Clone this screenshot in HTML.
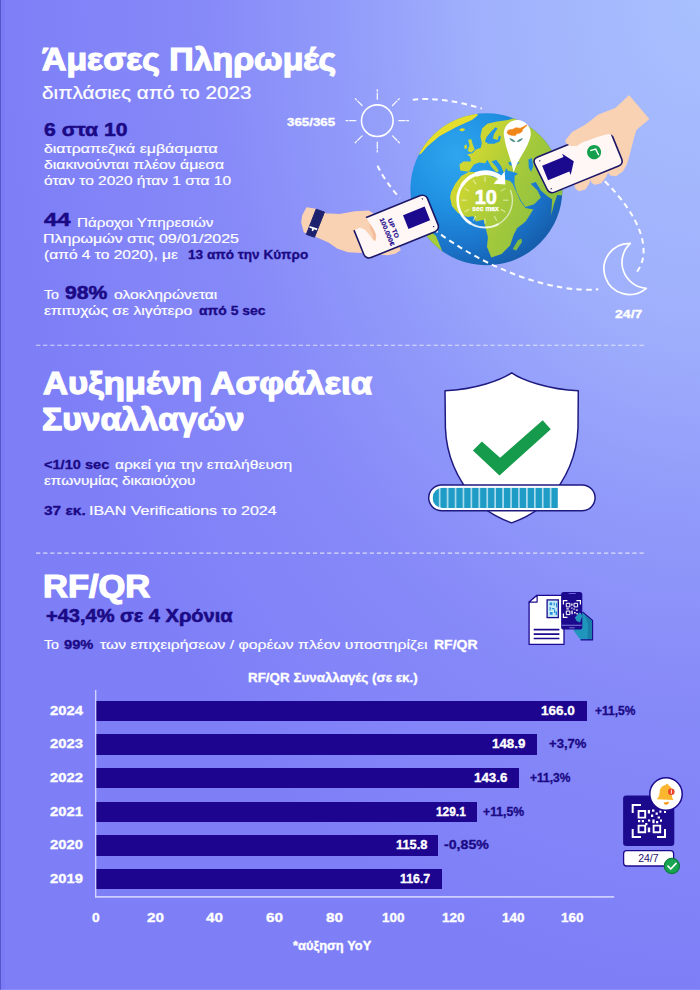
<!DOCTYPE html>
<html lang="el"><head><meta charset="utf-8"><title>Infographic</title>
<style>
html,body{margin:0;padding:0;}
body{width:700px;height:990px;overflow:hidden;position:relative;font-family:"Liberation Sans",sans-serif;color:#fff;
background:radial-gradient(ellipse 700px 990px at 100% 0%, #a8c0fe 0%, #a0b0fc 32%, #929cfa 50%, #8689f8 71%, #7e7ff7 100%);}
.t{position:absolute;white-space:nowrap;line-height:1;transform-origin:0 0;display:block;}
.bar{position:absolute;left:96.2px;height:20.3px;background:#1e0590;}
.dash{position:absolute;left:38px;width:627px;height:0;border-top:1.3px dashed rgba(214,220,255,.62);}
svg{position:absolute;left:0;top:0;overflow:visible;}
</style></head><body>
<div style="position:absolute;left:0;top:0;width:1px;height:990px;background:rgba(45,45,160,.5)"></div>
<div style="position:absolute;left:1px;top:0;width:4px;height:990px;background:rgba(60,60,190,.05)"></div>
<div style="position:absolute;left:0;top:989px;width:700px;height:1px;background:rgba(255,255,255,.1)"></div>



<div class="bar" style="top:700.60px;width:490.7px"></div>
<div class="bar" style="top:734.27px;width:441.3px"></div>
<div class="bar" style="top:767.94px;width:422.8px"></div>
<div class="bar" style="top:801.61px;width:380.4px"></div>
<div class="bar" style="top:835.28px;width:341.8px"></div>
<div class="bar" style="top:868.95px;width:345.7px"></div>
<svg width="700" height="990" viewBox="0 0 700 990">
<path d="M36,345.2H644.5 M36,553.1H644.5" stroke="#fff" stroke-opacity=".7" stroke-width="1.05" stroke-dasharray="4.3 2.8" fill="none"/>
<defs>
<radialGradient id="gSea" cx="456.4" cy="155.3" r="117.8" gradientUnits="userSpaceOnUse">
<stop offset="0" stop-color="#2ea6ee"/><stop offset=".45" stop-color="#2090e2"/><stop offset=".8" stop-color="#1a72c8"/><stop offset="1" stop-color="#165fae"/></radialGradient>
<linearGradient id="gLand" x1="416.4" y1="159.3" x2="561.4" y2="224.3" gradientUnits="userSpaceOnUse">
<stop offset="0" stop-color="#e6de2c"/><stop offset=".32" stop-color="#cdd632"/><stop offset=".58" stop-color="#a8cb3a"/><stop offset="1" stop-color="#84bc43"/></linearGradient>
<clipPath id="cGlobe"><circle cx="486.4" cy="189.3" r="76"/></clipPath>
</defs>
<g fill="none" stroke="#fff" stroke-opacity=".96" stroke-width="2" stroke-dasharray="5.6 4.2" stroke-linecap="butt">
<path d="M412.8,99.8 A151.6,69.3 29.05 0 1 481.9,108.6"/>
<path d="M377.5,165.8 A151.6,69.3 29.05 0 0 399.9,198.1"/>
<path d="M604.8,181.2 A151.6,69.3 29.05 0 1 635.7,273.3"/>
</g>
<circle cx="486.4" cy="189.3" r="76" fill="url(#gSea)"/>
<g clip-path="url(#cGlobe)">
<path d="M421.3,153.4 L427.3,146.6 L439.3,136.3 L456.4,126.9 L471.9,120.0 L477.9,115.2 L473.6,106.3 L447.9,113.1 L427.3,126.9 L415.3,142.3 L411.9,157.7Z" fill="#e6de2e"/>
<path d="M460.2,170.6 L459.5,164.6 L463.3,161.5 L471.0,161.5 L470.1,157.0 L467.1,154.6 L472.7,152.9 L476.1,149.5 L480.8,147.8 L481.8,143.1 L480.4,136.3 L482.1,128.6 L487.3,123.8 L495.9,121.7 L507.9,120.0 L525.0,114.9 L576.4,114.9 L576.4,197.1 L557.2,194.9 L554.1,204.0 L551.2,215.5 L552.1,199.2 L547.8,196.6 L540.9,190.6 L535.8,182.1 L530.7,183.8 L537.5,190.6 L540.9,197.5 L534.1,204.3 L525.5,206.9 L521.2,200.9 L516.9,192.3 L514.4,183.8 L514.7,175.7 L518.1,174.0 L514.7,172.3 L507.9,170.7 L506.1,168.0 L504.1,173.5 L501.0,165.9 L496.2,159.8 L491.4,161.5 L495.9,166.3 L498.9,171.1 L496.5,172.5 L491.6,167.3 L487.3,159.8 L485.2,163.2 L479.1,162.5 L473.9,164.6 L471.5,168.0 L468.8,171.8Z" fill="url(#gLand)"/>
<path d="M484.9,141.6 L486.6,137.1 L490.7,132.0 L495.5,127.2 L497.6,128.6 L494.1,133.7 L492.8,138.5 L497.6,139.9 L498.9,135.4 L501.0,136.8 L499.6,141.6 L494.1,143.7 L488.3,143.7Z" fill="#2496e4"/>
<path d="M507.9,162.5 L514.7,160.5 L519.5,162.5 L516.4,165.3 L509.9,165.6Z" fill="#2294e2"/>
<path d="M528.4,159.4 L531.9,158.1 L533.2,166.3 L531.2,171.8 L528.8,168.0Z" fill="#1f8ad8"/>
<path d="M467.6,150.9 L469.5,145.0 L468.1,139.9 L471.2,138.9 L472.9,144.7 L474.8,149.8 L471.2,152.4Z" fill="url(#gLand)"/>
<path d="M464.1,146.1 L466.4,144.2 L467.2,148.1 L464.8,149.3Z" fill="url(#gLand)"/>
<path d="M459.2,129.6 L462.3,128.1 L465.3,129.3 L463.3,131.3 L460.2,131.1Z" fill="url(#gLand)"/>
<path d="M461.3,176.0 L455.3,183.7 L451.0,192.3 L450.1,197.4 L451.9,206.0 L457.9,212.9 L467.3,217.1 L473.3,216.3 L475.9,221.4 L483.6,219.7 L485.3,226.6 L487.9,236.9 L487.0,247.1 L491.3,257.4 L501.6,254.0 L510.1,245.4 L513.6,235.1 L517.0,228.3 L525.6,221.4 L533.3,209.4 L525.6,208.1 L520.4,200.9 L516.1,191.4 L512.7,183.7 L510.1,181.1 L501.6,178.6 L493.0,176.9 L487.9,174.3 L479.3,172.6 L469.0,171.7Z" fill="url(#gLand)"/>
<path d="M512.7,248.9 L517.9,240.3 L521.3,238.6 L522.1,242.0 L516.1,250.6Z" fill="#7fba45"/>
<path d="M424.0,226.0 L436.0,236.0 L441.0,248.0 L446.0,262.0 L430.0,262.0 L415.0,240.0Z" fill="#a6cb3b"/>
<path d="M567.4,143.3 A81,81 0 0 1 430.4,270.3 L442.4,258.3 A74,74 0 0 0 548.4,155.3Z" fill="#0b3f8c" opacity=".42"/>
</g>
<g id="timer">
<path d="M510.4,189.9 A27.4,27.4 0 0 1 498.7,223.9" fill="none" stroke="#fff" stroke-width="1.4" stroke-opacity="0.6"/>
<path d="M498.7,223.9 A27.4,27.4 0 0 1 471.3,223.9" fill="none" stroke="#fff" stroke-width="1.9" stroke-opacity="0.85"/>
<path d="M471.3,223.9 A27.4,27.4 0 0 1 462.6,184.5" fill="none" stroke="#fff" stroke-width="2.6" stroke-opacity="1"/>
<path d="M461.8,185.7 A27.4,27.4 0 0 1 476.5,174.1" fill="none" stroke="#fff" stroke-width="3.3" stroke-opacity="1"/>
<path d="M475.6,174.5 A27.4,27.4 0 0 1 499.9,177.2" fill="none" stroke="#fff" stroke-width="4.6" stroke-opacity="1"/>
<path d="M494,183.7 L504.7,171.6 L505.4,184.4Z" fill="#fff"/>
<line x1="485.0" y1="182.0" x2="485.0" y2="176.6" stroke="#fffbe0" stroke-opacity=".6" stroke-width="1.1"/>
<line x1="494.1" y1="184.4" x2="496.8" y2="179.8" stroke="#fffbe0" stroke-opacity=".6" stroke-width="1.1"/>
<line x1="500.8" y1="191.1" x2="505.4" y2="188.4" stroke="#fffbe0" stroke-opacity=".6" stroke-width="1.1"/>
<line x1="503.2" y1="200.2" x2="508.6" y2="200.2" stroke="#fffbe0" stroke-opacity=".6" stroke-width="1.1"/>
<line x1="500.8" y1="209.3" x2="505.4" y2="212.0" stroke="#fffbe0" stroke-opacity=".6" stroke-width="1.1"/>
<line x1="494.1" y1="216.0" x2="496.8" y2="220.6" stroke="#fffbe0" stroke-opacity=".6" stroke-width="1.1"/>
<line x1="485.0" y1="218.4" x2="485.0" y2="223.8" stroke="#fffbe0" stroke-opacity=".6" stroke-width="1.1"/>
<line x1="475.9" y1="216.0" x2="473.2" y2="220.6" stroke="#fffbe0" stroke-opacity=".6" stroke-width="1.1"/>
<line x1="469.2" y1="209.3" x2="464.6" y2="212.0" stroke="#fffbe0" stroke-opacity=".6" stroke-width="1.1"/>
<line x1="466.8" y1="200.2" x2="461.4" y2="200.2" stroke="#fffbe0" stroke-opacity=".6" stroke-width="1.1"/>
<line x1="469.2" y1="191.1" x2="464.6" y2="188.4" stroke="#fffbe0" stroke-opacity=".6" stroke-width="1.1"/>
<line x1="475.9" y1="184.4" x2="473.2" y2="179.8" stroke="#fffbe0" stroke-opacity=".6" stroke-width="1.1"/>
<text x="485.8" y="204.1" text-anchor="middle" font-family="Liberation Sans, sans-serif" font-weight="700" font-size="20" fill="#fff" stroke="#fff" stroke-width=".6">10</text>
<text x="485.6" y="210.7" text-anchor="middle" font-family="Liberation Sans, sans-serif" font-weight="700" font-size="6.8" fill="#fff" stroke="#fff" stroke-width=".25" textLength="26.5" lengthAdjust="spacingAndGlyphs">sec max</text>
</g>
<g id="pin"><path d="M513.6,172.8 C511.6,160 505.6,148.5 504.2,137 A13.5,13.5 0 1 1 530.5,136.2 C528.4,147.5 517,160 513.6,172.8Z" fill="#fff"/>
<path d="M506.9,132.4 L508.5,130 L512.8,129.2 L515.9,127.7 L520.2,128.2 L523.8,126.5 L526.8,124.8 L526.9,125.7 L522.6,129.2 L522.2,131.6 L519.5,133.2 L517.1,133.6 L515.1,135.8 L511.2,135.3 L508.5,134.4Z" fill="#f0851a" stroke="#f0851a" stroke-width=".5" stroke-linejoin="round"/>
<path d="M509.2,138.2 Q512,142.6 515.6,141.8 Q513,138.4 509.2,138.2Z M523,138.2 Q520.2,142.6 516.6,141.8 Q519.2,138.4 523,138.2Z" fill="#4f9088"/></g>
<g fill="none" stroke="#fff" stroke-opacity=".96" stroke-width="2" stroke-dasharray="5.6 4.2" stroke-linecap="butt">
<path d="M433.4,228.9 A151.6,69.3 29.05 0 0 598.3,289.3"/>
</g>
<g id="lhand">
<path d="M307.0,207.9 L302.9,215.6 L301.9,222.4 L304.4,231.9 L315.6,236.1 L329.3,242.1 L337.9,248.1 L348.1,251.6 L361.9,252.3 L375.6,253.6 L387.6,254.5 L395.3,252.9 L399.9,249.9 L397.9,244.7 L384.1,234.4 L375.6,220.7 L373.0,214.2 L368.7,211.3 L355.0,212.1 L339.6,214.7 L325.9,213.9 L315.6,209.6Z" fill="#f9d1b3" stroke="#f9d1b3" stroke-width="1.5" stroke-linejoin="round"/>
<path d="M316.1,209.2 L324.5,212.1 L314.5,237.2 L306.3,234.4Z" fill="#1e226e" stroke="#1e226e" stroke-width="1" stroke-linejoin="round"/>
<path d="M309.7,225.9 L317.5,228.6 L316.8,230.3 L313.9,229.3 L313.2,231.3 L311.6,230.8 L312.3,228.8 L309.2,227.6Z" fill="#fff"/>
</g>
<g id="lphone" transform="translate(395.7,226.6) rotate(-22)">
<rect x="-40" y="-19.5" width="80" height="39" rx="5.5" fill="#fff7f5" stroke="#1b1766" stroke-width="1.6"/>
<rect x="11" y="-7.7" width="23.3" height="14.6" fill="#1c0a8e"/>
<path d="M34.6,-16.6 l1.6,.9 l-1.6,.9z M34.6,13.2 l1.6,.9 l-1.6,.9z" fill="#1b1766"/>
<g transform="rotate(90)" font-family="Liberation Sans, sans-serif" font-weight="700" fill="#1c0a8e" stroke="#1c0a8e" stroke-width=".2" text-anchor="middle"><text x="0.7" y="4.9" font-size="6.3" textLength="20.5" lengthAdjust="spacingAndGlyphs">UP TO</text><text x="1.6" y="12.1" font-size="6.3" textLength="29.5" lengthAdjust="spacingAndGlyphs">100.000€</text></g>
</g>
<path d="M349.0,221.0 L352.6,230.4 L360.0,227.2 L365.0,229.2 L370.0,235.0 L373.0,239.5 L375.2,240.6 L375.9,235.0 L373.5,229.5 L369.5,223.5 L365.0,216.6 L360.0,212.5 L352.0,213.0Z" fill="#f9d1b3" stroke="#f9d1b3" stroke-width=".8" stroke-linejoin="round"/>
<path d="M369.5,223.5 L373.5,229.5 L375.9,235.0 L375.2,240.6 L373.4,239.6 L372.6,234.0 L370.0,228.0Z" fill="#f3bd9c"/>
<g id="rhand">
<path d="M629,96 L648.5,119 L636,129.5 C633,138 631,148 629,155 L626.5,163.5 L625.4,166 L622.5,171 L616,175.6 L610.5,175 L608,171.5 L605.4,177 L601,182.6 L595,184.2 L592,182.4 L590.4,178 L588.4,184 L585,189 L579,190.6 L576,188.4 L574.5,184.4 L590,170 L570,150 L566.4,141 L580,129.6 L598,115.4 L616,108.2Z" fill="#f9d1b3" stroke="#f9d1b3" stroke-width="1.2" stroke-linejoin="round"/>
</g>
<g id="rphone" transform="translate(579.3,161) rotate(-22.2)">
<path d="M-37,-19.5 L34.5,-19.5 Q40,-19.5 40,-14 L40,14 Q40,19.5 34.5,19.5 L-34.6,19.5 Q-40.1,19.5 -40.5,14 L-42.4,-14 Q-42.7,-19.5 -37,-19.5Z" fill="#fff7f5" stroke="#1b1766" stroke-width="1.6"/>
<path d="M-36.2,-9.6 L-13.2,-9.6 L-13.2,-13.2 L-5.2,-1.8 L-13.2,9.6 L-13.2,6 L-36.2,6Z" fill="#1c0a8e"/>
<circle cx="17" cy="-2.6" r="7.1" fill="#12a04c"/><path d="M14,-5.5 L19.7,-4.8 L20.2,2" fill="none" stroke="#fff" stroke-width="1.4" stroke-linejoin="miter"/>
<path d="M-37,-16 l1.6,.9 l-1.6,.9z M-37,14.2 l1.6,.9 l-1.6,.9z" fill="#1b1766"/>
</g>
<path d="M565.2,140.5 L566.6,143.8 L571.0,146.0 L576.9,145.9 L582.0,142.6 L587.9,140.4 L598.9,136.5 L606.0,134.6 L610.6,134.1 L613.4,136.2 L620.0,132.0 L612.0,118.0 L590.0,122.0 L572.0,132.0Z" fill="#f9d1b3"/>
<g id="sun" stroke="#fff" fill="none">
<circle cx="377.3" cy="120.7" r="15.8" stroke-width="1.6"/>
<line x1="398.8" y1="120.7" x2="408.5" y2="120.7" stroke-width="1.25" stroke-dasharray="6.2 1.7 1.8 9" stroke-linecap="round" stroke-opacity=".95"/>
<line x1="392.5" y1="135.9" x2="399.4" y2="142.8" stroke-width="1.25" stroke-dasharray="6.2 1.7 1.8 9" stroke-linecap="round" stroke-opacity=".95"/>
<line x1="377.3" y1="142.2" x2="377.3" y2="151.9" stroke-width="1.25" stroke-dasharray="6.2 1.7 1.8 9" stroke-linecap="round" stroke-opacity=".95"/>
<line x1="362.1" y1="135.9" x2="355.2" y2="142.8" stroke-width="1.25" stroke-dasharray="6.2 1.7 1.8 9" stroke-linecap="round" stroke-opacity=".95"/>
<line x1="355.8" y1="120.7" x2="346.1" y2="120.7" stroke-width="1.25" stroke-dasharray="6.2 1.7 1.8 9" stroke-linecap="round" stroke-opacity=".95"/>
<line x1="362.1" y1="105.5" x2="355.2" y2="98.6" stroke-width="1.25" stroke-dasharray="6.2 1.7 1.8 9" stroke-linecap="round" stroke-opacity=".95"/>
<line x1="377.3" y1="99.2" x2="377.3" y2="89.5" stroke-width="1.25" stroke-dasharray="6.2 1.7 1.8 9" stroke-linecap="round" stroke-opacity=".95"/>
<line x1="392.5" y1="105.5" x2="399.4" y2="98.6" stroke-width="1.25" stroke-dasharray="6.2 1.7 1.8 9" stroke-linecap="round" stroke-opacity=".95"/>
</g>
<path id="moon" d="M630.3,243.3 A25.6,25.6 0 1 0 646.3,288.3 A26,26 0 0 1 630.3,243.3Z" fill="none" stroke="#fff" stroke-width="1.7" stroke-linejoin="round"/>
<g id="shield">
<path d="M511.7,372.8 C522,380 548,389.5 578.3,390.7 L578,428 C577,455 566,480 548,500 C540,509 528,517 511.7,522.9 C495.4,517 483.4,509 475.4,500 C457.4,480 446.4,455 445.4,428 L445,390.7 C475.4,389.5 501.4,380 511.7,372.8Z" fill="#ffffff" stroke="#1f1a80" stroke-width="1.5" stroke-linejoin="round"/>
<path d="M472.9,450.4 L481.9,441.4 L500.1,457.7 L542.7,420.3 L550.8,429.2 L499.5,475.4Z" fill="#169b4d"/>
<rect x="428.7" y="484.9" width="166.4" height="25.8" rx="12.9" fill="#ffffff" stroke="#1f1a80" stroke-width="1.5"/>
<clipPath id="cBar"><rect x="432.6" y="487.7" width="150" height="20.4" rx="10.2"/></clipPath>
<g clip-path="url(#cBar)">
<rect x="432.6" y="487.7" width="125.2" height="20.4" fill="#a9d9ec"/>
<g fill="#1f9cc5">
<rect x="432.6" y="487.7" width="6.2" height="20.4"/>
<rect x="440.5" y="487.7" width="6.2" height="20.4"/>
<rect x="448.5" y="487.7" width="6.2" height="20.4"/>
<rect x="456.4" y="487.7" width="6.2" height="20.4"/>
<rect x="464.3" y="487.7" width="6.2" height="20.4"/>
<rect x="472.2" y="487.7" width="6.2" height="20.4"/>
<rect x="480.2" y="487.7" width="6.2" height="20.4"/>
<rect x="488.1" y="487.7" width="6.2" height="20.4"/>
<rect x="496.0" y="487.7" width="6.2" height="20.4"/>
<rect x="504.0" y="487.7" width="6.2" height="20.4"/>
<rect x="511.9" y="487.7" width="6.2" height="20.4"/>
<rect x="519.8" y="487.7" width="6.2" height="20.4"/>
<rect x="527.8" y="487.7" width="6.2" height="20.4"/>
<rect x="535.7" y="487.7" width="6.2" height="20.4"/>
<rect x="543.6" y="487.7" width="6.2" height="20.4"/>
<rect x="551.5" y="487.7" width="6.2" height="20.4"/>
</g></g>
</g>

<g id="doc-icon">
<path d="M537.1,595.3 L564,595.3 L564,644.4 L529.1,644.4 L529.1,602.1Z" fill="#fff" stroke="#1c0a8e" stroke-width="1.3" stroke-linejoin="round"/>
<path d="M529.1,602.1 L537.1,602.1 L537.1,595.3Z" fill="#fff" stroke="#1c0a8e" stroke-width="1.2" stroke-linejoin="round"/>
<rect x="547.1" y="599.9" width="11.2" height="17.7" fill="#c6ecf8" stroke="#1c0a8e" stroke-width="1.3"/>
<path d="M549.6,602.6h2.6v2.6h-2.6z M553.6,602.4h1.2v3h-1.2z M556,603h1.2v4.6h-1.2z M549.6,607h1.2v3.6h-1.2z M551.8,608h2.6v1.2h-2.6z M554,609.6h1.2v3.4h-1.2z M549.8,612h2.8v2.8h-2.8z M555.6,611.6h1.4v3.4h-1.4z" fill="#2c8fdc"/>
<path d="M533.7,629.6H559.4 M533.7,634.1H559.4 M533.7,638.5H559.4" stroke="#1c0a8e" stroke-width="1.6" fill="none"/>
<path d="M576,617 L581.7,611.3 L584.2,613.4 L592.6,620.4 L592.6,639.9 L580.6,639.9 L577.1,635.3 L573.7,630.7 L574.8,625Z" fill="#2196bd"/>
<path d="M584.2,613.4 L592.6,620.4 L592.6,639.9 L587.5,639.9 L588,624Z" fill="#1a7ea8"/>
<path d="M582.6,612 L592.6,620.4 L592.6,639.9 L580.6,639.9" fill="none" stroke="#1c0a8e" stroke-width="1.1" stroke-linejoin="round"/>
<rect x="561.1" y="592.1" width="21.2" height="37.5" rx="2.6" fill="#1c0a8e"/>
<rect x="568.6" y="592.9" width="7.4" height="1" rx=".5" fill="#6d62e0"/>
<rect x="561.6" y="624.8" width="20.2" height=".8" fill="#9b93f0"/>
<rect x="569.2" y="627.4" width="5.6" height=".9" rx=".45" fill="#9b93f0"/>
<path d="M563.4,604.6V600.6H567.4 M576.4,600.6H580.4V604.6 M580.4,613.4V617.4H576.4 M567.4,617.4H563.4V613.4" fill="none" stroke="#fff" stroke-width="1.2"/>
<path d="M566.3,603.3h3.6v3.6h-3.6z M574,603.3h3.6v3.6h-3.6z M566.3,611h3.6v3.6h-3.6z" fill="none" stroke="#fff" stroke-width="1"/>
<path d="M571.2,603.4h1.3v2.4h-1.3z M571.2,607.4h1.3v1.3h-1.3z M566.4,608.2h2.4v1.2h-2.4z M573.4,608.4h1.4v1.4h-1.4z M575.8,609.4h2v1.3h-2z M571.4,610.4h1.3v3.8h-1.3z M574,612h1.6v1.4h-1.6z M576.4,613h1.4v1.6h-1.4z" fill="#fff"/>
<path d="M574.8,617.4 L579.8,612.4 L582.4,615.6 L580,622.6 L576.6,621Z" fill="#2196bd"/>
</g>
<g id="qr-bell">
<rect x="623.1" y="795.4" width="51.2" height="50.6" rx="3.2" fill="#1c0a8e"/>
<path d="M632.7,813V805H641 M657,805H665V813 M665,829V837H657 M641,837H632.7V829" fill="none" stroke="#fff" stroke-width="2"/>
<path d="M638.6,811h6.6v6.6h-6.6z M638.6,825.6h6.6v6.6h-6.6z M653.6,825.6h6.6v6.6h-6.6z" fill="none" stroke="#fff" stroke-width="1.9"/>
<path d="M647.8,810h2.2v3.4h-2.2z M652,809.6h2.4v2.2h-2.4z M655.6,812.6h2.2v2.2h-2.2z M659.4,810.4h2v2.4h-2z M651,814.6h2.2v2.4h-2.2z M657.6,816.4h2.4v2.2h-2.4z M648,819.4h2.2v2.2h-2.2z M638,820h2.2v2.2h-2.2z M641.8,820h2.2v2.2h-2.2z M645.2,823h2.2v2.2h-2.2z M652.4,819.6h2.2v3.6h-2.2z M656,821h2.2v2.2h-2.2z M660,819.6h2v2.2h-2z M647.8,827.6h2.4v4.6h-2.4z" fill="#fff"/>
<circle cx="666" cy="794" r="16.2" fill="#fff" stroke="#1c0a8e" stroke-width="1.5"/>
<path d="M664.4,783.6 a1.5,1.5 0 0 1 3,0 C671,784.6 672.6,788 672.6,791.6 C672.6,796 674,798 675.6,799.6 L656.2,801.6 C657.6,799.4 658.8,797 658.4,792.6 C658,788 660.4,784.6 664.4,783.6Z" fill="#fbb62f" transform="translate(666 794) scale(.86) translate(-666 -794) rotate(8 666 794)"/>
<path d="M663.6,802.4 a2.6,2.6 0 0 0 5.2,-.6Z" fill="#f59a1c"/>
<circle cx="671.3" cy="791.7" r="3.3" fill="#e9442c"/>
<rect x="670.9" y="789.7" width=".9" height="4" fill="#fff"/>
<rect x="623.6" y="850.7" width="50" height="15.3" rx="3" fill="#fff" stroke="#1c0a8e" stroke-width="1.3"/>
<text x="648.4" y="862.3" text-anchor="middle" font-family="Liberation Sans, sans-serif" font-size="10.5" fill="#1c0f6e">24/7</text>
<circle cx="671.9" cy="866" r="7.6" fill="#18a450" stroke="#0d7c3c" stroke-width="1.2"/>
<path d="M668,866.2 L670.8,869 L676,863.4" fill="none" stroke="#fff" stroke-width="1.7" stroke-linecap="round" stroke-linejoin="round"/>
</g>

<g id="chart-axes">
<rect x="95.2" y="690" width="1.1" height="207.5" fill="#e6e8ff"/>
<rect x="95.2" y="896.2" width="519" height="1.4" fill="#dfe2ff"/>
</g>

</svg>
<span class="t" style="left:41.50px;top:43.41px;font-size:32px;font-weight:700;-webkit-text-stroke:1.25px;transform:scaleX(1.0566);">Άμεσες Πληρωμές</span>
<span class="t" style="left:42.00px;top:83.76px;font-size:18px;-webkit-text-stroke:0.22px;transform:scaleX(1.1504);">διπλάσιες από το 2023</span>
<span class="t" style="left:44.30px;top:119.92px;font-size:19px;font-weight:700;color:#1b0a86;-webkit-text-stroke:0.55px;transform:scaleX(1.1141);">6 στα 10</span>
<span class="t" style="left:44.00px;top:142.24px;font-size:13.3px;-webkit-text-stroke:0.18px;transform:scaleX(1.1948);">διατραπεζικά εμβάσματα</span>
<span class="t" style="left:44.00px;top:158.24px;font-size:13.3px;-webkit-text-stroke:0.18px;transform:scaleX(1.1883);">διακινούνται πλέον άμεσα</span>
<span class="t" style="left:44.00px;top:174.34px;font-size:13.3px;-webkit-text-stroke:0.18px;transform:scaleX(1.1637);">όταν το 2020 ήταν 1 στα 10</span>
<span class="t" style="left:44.00px;top:210.22px;font-size:19px;font-weight:700;color:#1b0a86;-webkit-text-stroke:0.55px;transform:scaleX(1.2473);">44</span>
<span class="t" style="left:77.36px;top:215.74px;font-size:13.3px;-webkit-text-stroke:0.18px;transform:scaleX(1.1417);">Πάροχοι Υπηρεσιών</span>
<span class="t" style="left:43.30px;top:232.04px;font-size:13.3px;-webkit-text-stroke:0.18px;transform:scaleX(1.2020);">Πληρωμών στις 09/01/2025</span>
<span class="t" style="left:44.00px;top:247.74px;font-size:13.3px;-webkit-text-stroke:0.18px;transform:scaleX(1.1685);">(από 4 το 2020), με</span>
<span class="t" style="left:188.30px;top:247.74px;font-size:13.3px;font-weight:700;color:#1b0a86;-webkit-text-stroke:0.32px;transform:scaleX(1.0217);">13 από την Κύπρο</span>
<span class="t" style="left:44.00px;top:288.14px;font-size:13.3px;-webkit-text-stroke:0.18px;transform:scaleX(1.0687);">Το</span>
<span class="t" style="left:65.00px;top:282.72px;font-size:19px;font-weight:700;color:#1b0a86;-webkit-text-stroke:0.55px;transform:scaleX(1.1145);">98%</span>
<span class="t" style="left:114.10px;top:288.14px;font-size:13.3px;-webkit-text-stroke:0.18px;transform:scaleX(1.1757);">ολοκληρώνεται</span>
<span class="t" style="left:44.00px;top:303.74px;font-size:13.3px;-webkit-text-stroke:0.18px;transform:scaleX(1.1851);">επιτυχώς σε λιγότερο</span>
<span class="t" style="left:198.50px;top:303.74px;font-size:13.3px;font-weight:700;color:#1b0a86;-webkit-text-stroke:0.32px;transform:scaleX(1.0484);">από 5 sec</span>
<span class="t" style="left:286.90px;top:116.65px;font-size:11.4px;font-weight:700;-webkit-text-stroke:0.32px;transform:scaleX(1.1688);">365/365</span>
<span class="t" style="left:614.80px;top:308.83px;font-size:11.3px;font-weight:700;-webkit-text-stroke:0.32px;transform:scaleX(1.2440);">24/7</span>
<span class="t" style="left:43.00px;top:367.11px;font-size:32px;font-weight:700;-webkit-text-stroke:1.25px;transform:scaleX(1.0832);">Αυξημένη Ασφάλεια</span>
<span class="t" style="left:41.95px;top:403.31px;font-size:32px;font-weight:700;-webkit-text-stroke:1.25px;transform:scaleX(1.0497);">Συναλλαγών</span>
<span class="t" style="left:43.50px;top:458.34px;font-size:13.3px;font-weight:700;color:#1b0a86;-webkit-text-stroke:0.32px;transform:scaleX(1.0959);">&lt;1/10 sec</span>
<span class="t" style="left:114.80px;top:458.34px;font-size:13.3px;-webkit-text-stroke:0.18px;transform:scaleX(1.1710);">αρκεί για την επαλήθευση</span>
<span class="t" style="left:44.00px;top:474.24px;font-size:13.3px;-webkit-text-stroke:0.18px;transform:scaleX(1.1545);">επωνυμίας δικαιούχου</span>
<span class="t" style="left:43.50px;top:504.04px;font-size:13.3px;font-weight:700;color:#1b0a86;-webkit-text-stroke:0.32px;transform:scaleX(1.1616);">37 εκ.</span>
<span class="t" style="left:88.90px;top:504.04px;font-size:13.3px;-webkit-text-stroke:0.18px;transform:scaleX(1.2036);">IBAN Verifications το 2024</span>
<span class="t" style="left:42.84px;top:569.71px;font-size:32px;font-weight:700;-webkit-text-stroke:1.25px;transform:scaleX(1.0776);">RF/QR</span>
<span class="t" style="left:45.50px;top:607.16px;font-size:18px;font-weight:700;color:#1b0a86;-webkit-text-stroke:0.55px;transform:scaleX(1.1130);">+43,4% σε 4 Χρόνια</span>
<span class="t" style="left:44.00px;top:638.24px;font-size:13.3px;-webkit-text-stroke:0.18px;transform:scaleX(1.0687);">Το</span>
<span class="t" style="left:64.30px;top:638.24px;font-size:13.3px;font-weight:700;color:#1b0a86;-webkit-text-stroke:0.32px;transform:scaleX(1.1049);">99%</span>
<span class="t" style="left:100.40px;top:638.24px;font-size:13.3px;-webkit-text-stroke:0.18px;transform:scaleX(1.1847);">των επιχειρήσεων / φορέων πλέον υποστηρίζει</span>
<span class="t" style="left:433.90px;top:638.24px;font-size:13.3px;font-weight:700;-webkit-text-stroke:0.32px;transform:scaleX(1.0536);">RF/QR</span>
<span class="t" style="left:247.50px;top:672.32px;font-size:12.5px;font-weight:700;-webkit-text-stroke:0.32px;transform:scaleX(1.0716);">RF/QR Συναλλαγές (σε εκ.)</span>
<span class="t" style="left:293.00px;top:940.42px;font-size:12.5px;font-weight:700;-webkit-text-stroke:0.32px;transform:scaleX(1.0296);">*αύξηση YoY</span>
<span class="t" style="left:50.00px;top:704.67px;font-size:12.5px;font-weight:700;-webkit-text-stroke:0.32px;transform:scaleX(1.1811);">2024</span>
<span class="t" style="left:541.40px;top:704.67px;font-size:12.5px;font-weight:700;-webkit-text-stroke:0.32px;transform:scaleX(1.0821);">166.0</span>
<span class="t" style="left:595.00px;top:704.67px;font-size:12.5px;font-weight:700;color:#1b0a86;-webkit-text-stroke:0.32px;transform:scaleX(0.9609);">+11,5%</span>
<span class="t" style="left:50.00px;top:738.34px;font-size:12.5px;font-weight:700;-webkit-text-stroke:0.32px;transform:scaleX(1.1811);">2023</span>
<span class="t" style="left:492.00px;top:738.34px;font-size:12.5px;font-weight:700;-webkit-text-stroke:0.32px;transform:scaleX(1.0661);">148.9</span>
<span class="t" style="left:548.60px;top:738.34px;font-size:12.5px;font-weight:700;color:#1b0a86;-webkit-text-stroke:0.32px;transform:scaleX(1.0455);">+3,7%</span>
<span class="t" style="left:50.00px;top:772.01px;font-size:12.5px;font-weight:700;-webkit-text-stroke:0.32px;transform:scaleX(1.1811);">2022</span>
<span class="t" style="left:474.00px;top:772.01px;font-size:12.5px;font-weight:700;-webkit-text-stroke:0.32px;transform:scaleX(1.0661);">143.6</span>
<span class="t" style="left:530.00px;top:772.01px;font-size:12.5px;font-weight:700;color:#1b0a86;-webkit-text-stroke:0.32px;transform:scaleX(0.9633);">+11,3%</span>
<span class="t" style="left:50.00px;top:805.68px;font-size:12.5px;font-weight:700;-webkit-text-stroke:0.32px;transform:scaleX(1.1811);">2021</span>
<span class="t" style="left:436.00px;top:805.68px;font-size:12.5px;font-weight:700;-webkit-text-stroke:0.32px;transform:scaleX(0.9512);">129.1</span>
<span class="t" style="left:483.00px;top:805.68px;font-size:12.5px;font-weight:700;color:#1b0a86;-webkit-text-stroke:0.32px;transform:scaleX(0.9776);">+11,5%</span>
<span class="t" style="left:50.00px;top:839.35px;font-size:12.5px;font-weight:700;-webkit-text-stroke:0.32px;transform:scaleX(1.1811);">2020</span>
<span class="t" style="left:396.00px;top:839.35px;font-size:12.5px;font-weight:700;-webkit-text-stroke:0.32px;transform:scaleX(1.0281);">115.8</span>
<span class="t" style="left:444.00px;top:839.35px;font-size:12.5px;font-weight:700;color:#1b0a86;-webkit-text-stroke:0.32px;transform:scaleX(1.1319);">-0,85%</span>
<span class="t" style="left:50.00px;top:873.02px;font-size:12.5px;font-weight:700;-webkit-text-stroke:0.32px;transform:scaleX(1.1811);">2019</span>
<span class="t" style="left:400.00px;top:873.02px;font-size:12.5px;font-weight:700;-webkit-text-stroke:0.32px;transform:scaleX(0.9857);">116.7</span>
<span class="t" style="left:91.55px;top:911.92px;font-size:12.5px;font-weight:700;-webkit-text-stroke:0.32px;transform:scaleX(1.1000);">0</span>
<span class="t" style="left:146.56px;top:911.92px;font-size:12.5px;font-weight:700;-webkit-text-stroke:0.32px;transform:scaleX(1.2185);">20</span>
<span class="t" style="left:206.22px;top:911.92px;font-size:12.5px;font-weight:700;-webkit-text-stroke:0.32px;transform:scaleX(1.2185);">40</span>
<span class="t" style="left:265.88px;top:911.92px;font-size:12.5px;font-weight:700;-webkit-text-stroke:0.32px;transform:scaleX(1.2185);">60</span>
<span class="t" style="left:325.54px;top:911.92px;font-size:12.5px;font-weight:700;-webkit-text-stroke:0.32px;transform:scaleX(1.2185);">80</span>
<span class="t" style="left:382.40px;top:911.92px;font-size:12.5px;font-weight:700;-webkit-text-stroke:0.32px;transform:scaleX(1.0811);">100</span>
<span class="t" style="left:442.06px;top:911.92px;font-size:12.5px;font-weight:700;-webkit-text-stroke:0.32px;transform:scaleX(1.0811);">120</span>
<span class="t" style="left:501.72px;top:911.92px;font-size:12.5px;font-weight:700;-webkit-text-stroke:0.32px;transform:scaleX(1.0811);">140</span>
<span class="t" style="left:561.38px;top:911.92px;font-size:12.5px;font-weight:700;-webkit-text-stroke:0.32px;transform:scaleX(1.0811);">160</span>
</body></html>
